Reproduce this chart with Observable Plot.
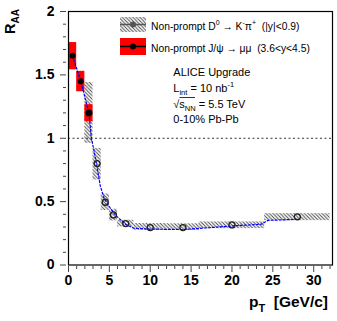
<!DOCTYPE html>
<html>
<head>
<meta charset="utf-8">
<script src="https://cdn.jsdelivr.net/npm/d3@7"></script>
<script src="https://cdn.jsdelivr.net/npm/@observablehq/plot@0.6"></script>
<style>
  html, body { margin: 0; padding: 0; background: white; }
  #chart svg { display: block; }
</style>
</head>
<body>
<div id="chart"></div>
<script>
// Non-prompt D0 -> K pi (|y|<0.9): bins, central values, systematic boxes
const d0PtLo = [2, 3, 4, 5, 6, 8, 12, 16, 24];
const d0PtHi = [3, 4, 5, 6, 8, 12, 16, 24, 32];
const d0Pt   = [2.5, 3.5, 4.5, 5.5, 7, 10, 14, 20, 28];
const d0Raa  = [1.2, 0.80, 0.495, 0.395, 0.327, 0.295, 0.295, 0.316, 0.38];
const d0Lo   = [0.96, 0.67, 0.43, 0.348, 0.30, 0.274, 0.272, 0.287, 0.35];
const d0Hi   = [1.44, 0.92, 0.56, 0.44, 0.353, 0.327, 0.325, 0.34, 0.405];

// Non-prompt J/psi -> mu mu (3.6<y<4.5)
const jpPtLo = [0, 1, 2];
const jpPtHi = [1, 2, 3];
const jpPt   = [0.5, 1.5, 2.5];
const jpRaa  = [1.65, 1.45, 1.20];
const jpLo   = [1.54, 1.367, 1.13];
const jpHi   = [1.755, 1.528, 1.265];

// Model curve (blue dotted)
const modelPt  = [0.5, 1.5, 2.5, 2.8, 3.1, 3.5, 3.9, 4.4, 5.2, 5.8, 7, 8, 10, 14, 18, 20, 23.6, 24.4, 28];
const modelRaa = [1.65, 1.45, 1.20, 1.00, 0.91, 0.77, 0.62, 0.52, 0.44, 0.39, 0.32, 0.29, 0.283, 0.28, 0.298, 0.308, 0.322, 0.352, 0.36];

// Axis ticks
const xMajor = [0, 5, 10, 15, 20, 25, 30];
const xMinor = [1,2,3,4,6,7,8,9,11,12,13,14,16,17,18,19,21,22,23,24,26,27,28,29,31,32];
const yMajor = [0, 0.5, 1, 1.5, 2];
const yMinor = [0.1,0.2,0.3,0.4,0.6,0.7,0.8,0.9,1.1,1.2,1.3,1.4,1.6,1.7,1.8,1.9];

const d0 = d0Pt.map((p, i) => ({x: p, y: d0Raa[i], x1: d0PtLo[i], x2: d0PtHi[i], y1: d0Lo[i], y2: d0Hi[i]}));
const jp = jpPt.map((p, i) => ({x: p, y: jpRaa[i], x1: jpPtLo[i], x2: jpPtHi[i], y1: jpLo[i], y2: jpHi[i]}));
const model = modelPt.map((p, i) => ({x: p, y: modelRaa[i]}));

const FONT = "'Liberation Sans', Arial, Helvetica, sans-serif";

const svg = Plot.plot({
  width: 337,
  height: 321,
  marginLeft: 68,
  marginRight: 5,
  marginTop: 11,
  marginBottom: 56.5,
  x: {domain: [0, 32.3]},
  y: {domain: [0, 2]},
  style: {fontFamily: FONT, background: "white", color: "black"},
  marks: [
    Plot.rect(d0, {x1: "x1", x2: "x2", y1: "y1", y2: "y2", fill: "url(#hatch)"}),
    Plot.rect(jp, {x1: "x1", x2: "x2", y1: "y1", y2: "y2", fill: "#ff0000"}),
    Plot.ruleY([1], {stroke: "#333", strokeDasharray: "2,2.5", strokeWidth: 1}),
    Plot.line(model, {x: "x", y: "y", stroke: "#0000ff", strokeDasharray: "2,2", strokeWidth: 1.2}),
    Plot.dot(d0, {x: "x", y: "y", r: 3, stroke: "#222", fill: "none", strokeWidth: 1.3}),
    Plot.dot(jp, {x: "x", y: "y", r: 3, fill: "black", stroke: "none"}),
    Plot.axisY({ticks: yMajor, tickSize: 6, tickPadding: 6, dx: -2, fontSize: 14, fontWeight: "bold",
                tickFormat: d => String(d), label: null, stroke: "#444"}),
    Plot.axisY({ticks: yMinor, tickSize: 3, dx: -2, text: null, label: null, stroke: "#444"}),
    Plot.axisX({ticks: xMajor, tickSize: 6, tickPadding: 3, dy: 1.5, fontSize: 14, fontWeight: "bold",
                tickFormat: d => String(d), label: null, stroke: "#444"}),
    Plot.axisX({ticks: xMinor, tickSize: 3, dy: 1.5, text: null, label: null, stroke: "#444"}),
    Plot.frame({stroke: "black", strokeWidth: 1.2})
  ]
});

const s = d3.select(svg);
const defs = s.insert("defs", ":first-child");
const pat = defs.append("pattern").attr("id", "hatch").attr("patternUnits", "userSpaceOnUse")
  .attr("width", 3.5).attr("height", 3.5);
pat.append("path").attr("d", "M-1,-1 L4.5,4.5 M-1,2.5 L1,4.5 M2.5,-1 L4.5,1")
  .attr("stroke", "#444").attr("stroke-width", 0.9);

// Axis titles
const yt = s.append("text").attr("transform", "translate(15,9) rotate(-90)")
  .attr("text-anchor", "end").attr("font-family", FONT).attr("font-weight", "bold").attr("font-size", 14.5);
yt.append("tspan").text("R");
yt.append("tspan").attr("font-size", 10).attr("dy", 4).text("AA");

const xt = s.append("text").attr("x", 328).attr("y", 307).attr("text-anchor", "end")
  .attr("font-family", FONT).attr("font-weight", "bold").attr("font-size", 15.5);
xt.append("tspan").text("p");
xt.append("tspan").attr("font-size", 11).attr("dy", 5).text("T");
xt.append("tspan").attr("dy", -5).text("\u00a0\u00a0[GeV/c]");

// Legend
const lg = s.append("g").attr("font-family", FONT).attr("font-size", 10.3).attr("text-anchor", "start");
lg.append("rect").attr("x", 120).attr("y", 17).attr("width", 26).attr("height", 15).attr("fill", "url(#hatch)");
lg.append("line").attr("x1", 120).attr("x2", 146).attr("y1", 24.5).attr("y2", 24.5).attr("stroke", "#555").attr("stroke-width", 1.5);
lg.append("circle").attr("cx", 133).attr("cy", 24.5).attr("r", 3).attr("fill", "#555");
lg.append("rect").attr("x", 120).attr("y", 38).attr("width", 26).attr("height", 17).attr("fill", "#ff0000");
lg.append("line").attr("x1", 120).attr("x2", 146).attr("y1", 46.5).attr("y2", 46.5).attr("stroke", "black").attr("stroke-width", 1.5);
lg.append("circle").attr("cx", 133).attr("cy", 46.5).attr("r", 3).attr("fill", "black");

const t1 = lg.append("text").attr("x", 151).attr("y", 30);
t1.append("tspan").text("Non-prompt D");
t1.append("tspan").attr("font-size", 7).attr("dy", -5).text("0");
t1.append("tspan").attr("dy", 5).text(" \u2192 K");
t1.append("tspan").attr("font-size", 7).attr("dy", -5).text("-");
t1.append("tspan").attr("dy", 5).text("\u03c0");
t1.append("tspan").attr("font-size", 7).attr("dy", -5).text("+");
t1.append("tspan").attr("dy", 5).text("\u00a0\u00a0(|y|<0.9)");

const t2 = lg.append("text").attr("x", 151).attr("y", 52.3);
t2.append("tspan").text("Non-prompt J/\u03c8 \u2192 \u03bc\u03bc\u00a0\u00a0(3.6<y<4.5)");

// Info block
const info = s.append("g").attr("font-family", FONT).attr("font-size", 11).attr("text-anchor", "start");
info.append("text").attr("x", 173.3).attr("y", 76).text("ALICE Upgrade");
const l2 = info.append("text").attr("x", 173.3).attr("y", 91.7);
l2.append("tspan").text("L");
l2.append("tspan").attr("font-size", 7.5).attr("dy", 3).text("int");
l2.append("tspan").attr("dy", -3).text(" = 10 nb");
l2.append("tspan").attr("font-size", 7.5).attr("dy", -5).text("-1");
const l3 = info.append("text").attr("x", 173.3).attr("y", 107.7);
l3.append("tspan").text("\u221a");
l3.append("tspan").text("s");
l3.append("tspan").attr("font-size", 7.5).attr("dy", 3).text("NN");
l3.append("tspan").attr("dy", -3).text(" = 5.5 TeV");
info.append("line").attr("x1", 179.5).attr("x2", 195).attr("y1", 97.5).attr("y2", 97.5).attr("stroke", "black").attr("stroke-width", 0.8);
info.append("text").attr("x", 173.3).attr("y", 123.3).text("0-10% Pb-Pb");

document.getElementById("chart").appendChild(svg);
</script>
</body>
</html>
